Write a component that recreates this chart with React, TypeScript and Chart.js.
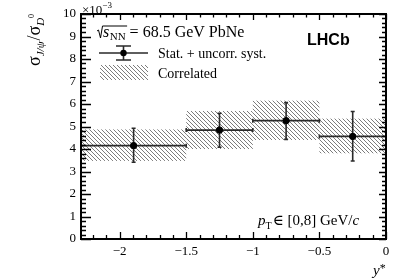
import React, { useEffect, useRef } from 'react';
import { Chart, registerables } from 'chart.js';

Chart.register(...registerables);

// ---- data ----
const xMin = -2.29;
const xMax = 0;
const binLow = [-2.29, -1.5, -1.0, -0.5];
const binHigh = [-1.5, -1.0, -0.5, 0.0];
const centers = [-1.895, -1.25, -0.75, -0.25];
const values = [4.15, 4.84, 5.26, 4.56];
const errHigh = [4.92, 5.59, 6.06, 5.67];
const errLow = [3.41, 4.08, 4.43, 3.47];
const corrHigh = [4.87, 5.69, 6.15, 5.35];
const corrLow = [3.47, 4.0, 4.4, 3.81];
const xTicks = [-2, -1.5, -1, -0.5, 0];
const yTicks = [0, 1, 2, 3, 4, 5, 6, 7, 8, 9, 10];

const SERIF = "'Liberation Serif', 'DejaVu Serif', serif";
const SANS = "'Liberation Sans', Arial, sans-serif";

type Seg = { text: string; font: string; dy?: number; gap?: number };
function drawRich(ctx: CanvasRenderingContext2D, x: number, y: number, segs: Seg[]) {
  let cx = x;
  for (const s of segs) {
    ctx.font = s.font;
    ctx.fillText(s.text, cx, y + (s.dy || 0));
    cx += ctx.measureText(s.text).width + (s.gap || 0);
  }
  return cx;
}

function fmt(v: number) {
  if (v < 0) return '\u2212' + String(Math.abs(v));
  return String(v);
}

export default function App() {
  const ref = useRef<HTMLCanvasElement | null>(null);

  useEffect(() => {
    const canvas = ref.current;
    if (!canvas) return;
    const pc = document.createElement('canvas');
    pc.width = 4;
    pc.height = 4;
    const pctx = pc.getContext('2d')!;
    pctx.fillStyle = '#7c7c7c';
    for (let i = 0; i < 4; i++) pctx.fillRect(i, i, 1, 1);
    const ctx0 = canvas.getContext('2d')!;
    const hatch = ctx0.createPattern(pc, 'repeat')!;

    const errColor = '#2a2a2a';

    const plotPlugin = {
      id: 'plotExtras',
      beforeDatasetsDraw(chart: any) {
        const ctx: CanvasRenderingContext2D = chart.ctx;
        const xs = chart.scales.x;
        const ys = chart.scales.y;
        const a = chart.chartArea;
        ctx.save();
        ctx.beginPath();
        ctx.rect(a.left, a.top, a.right - a.left, a.bottom - a.top);
        ctx.clip();
        // correlated boxes
        ctx.fillStyle = hatch;
        for (let i = 0; i < values.length; i++) {
          const x1 = xs.getPixelForValue(binLow[i]);
          const x2 = xs.getPixelForValue(binHigh[i]);
          const y1 = ys.getPixelForValue(corrHigh[i]);
          const y2 = ys.getPixelForValue(corrLow[i]);
          ctx.fillRect(x1, y1, x2 - x1, y2 - y1);
        }
        // error bars
        ctx.strokeStyle = errColor;
        ctx.lineWidth = 1.6;
        for (let i = 0; i < values.length; i++) {
          const xc = xs.getPixelForValue(centers[i]);
          const x1 = xs.getPixelForValue(binLow[i]);
          const x2 = xs.getPixelForValue(binHigh[i]);
          const yc = ys.getPixelForValue(values[i]);
          const yh = ys.getPixelForValue(errHigh[i]);
          const yl = ys.getPixelForValue(errLow[i]);
          ctx.beginPath();
          ctx.moveTo(x1, yc);
          ctx.lineTo(x2, yc);
          ctx.moveTo(x1, yc - 2);
          ctx.lineTo(x1, yc + 2);
          ctx.moveTo(x2, yc - 2);
          ctx.lineTo(x2, yc + 2);
          ctx.moveTo(xc, yh);
          ctx.lineTo(xc, yl);
          ctx.moveTo(xc - 2, yh);
          ctx.lineTo(xc + 2, yh);
          ctx.moveTo(xc - 2, yl);
          ctx.lineTo(xc + 2, yl);
          ctx.stroke();
        }
        ctx.restore();
      },
      afterDraw(chart: any) {
        const ctx: CanvasRenderingContext2D = chart.ctx;
        const xs = chart.scales.x;
        const ys = chart.scales.y;
        const a = chart.chartArea;
        ctx.save();
        // frame
        ctx.strokeStyle = '#000';
        ctx.lineWidth = 2;
        ctx.strokeRect(a.left, a.top, a.right - a.left, a.bottom - a.top);
        ctx.lineWidth = 1.3;
        ctx.beginPath();
        // y ticks (major every 1, minor every 0.2)
        for (let k = 0; k <= 50; k++) {
          const v = k / 5;
          const y = Math.round(ys.getPixelForValue(v)) + 0.5;
          const major = k % 5 === 0;
          ctx.moveTo(a.left, y);
          ctx.lineTo(a.left + (major ? 10 : 5), y);
          ctx.moveTo(a.right, y);
          ctx.lineTo(a.right - (major ? 7 : 4), y);
        }
        // x ticks (major every 0.5, minor every 0.1)
        for (let k = Math.ceil(xMin * 10); k <= Math.round(xMax * 10); k++) {
          const v = k / 10;
          const x = Math.round(xs.getPixelForValue(v)) + 0.5;
          const major = k % 5 === 0;
          ctx.moveTo(x, a.bottom);
          ctx.lineTo(x, a.bottom - (major ? 7 : 4));
          ctx.moveTo(x, a.top);
          ctx.lineTo(x, a.top + (major ? 6 : 3.5));
        }
        ctx.stroke();

        ctx.fillStyle = '#000';
        ctx.textBaseline = 'alphabetic';
        ctx.textAlign = 'left';

        // x10^-3
        drawRich(ctx, a.left + 1, 14, [
          { text: '\u00d710', font: `13px ${SERIF}` },
          { text: '\u22123', font: `9px ${SERIF}`, dy: -6 },
        ]);

        // sqrt(s_NN) line
        ctx.strokeStyle = '#000';
        ctx.lineWidth = 1;
        const lx = 97;
        const by = 37;
        ctx.font = `italic 16px ${SERIF}`;
        const sW = ctx.measureText('s').width;
        ctx.font = `11px ${SERIF}`;
        const nnW = ctx.measureText('NN').width;
        const sx = lx + 6;
        ctx.beginPath();
        ctx.moveTo(lx, by - 6);
        ctx.lineTo(lx + 1.5, by - 7);
        ctx.lineTo(lx + 3.5, by + 1);
        ctx.lineTo(lx + 5.5, by - 11);
        ctx.lineTo(sx + sW + nnW + 2, by - 11);
        ctx.stroke();
        drawRich(ctx, sx, by, [
          { text: 's', font: `italic 16px ${SERIF}`, gap: 0.5 },
          { text: 'NN', font: `11px ${SERIF}`, dy: 3, gap: 4 },
          { text: '= 68.5 GeV PbNe', font: `16px ${SERIF}` },
        ]);

        // legend entry 1: marker with error bars
        ctx.strokeStyle = errColor;
        ctx.lineWidth = 1.6;
        const my = 53;
        ctx.beginPath();
        ctx.moveTo(99, my);
        ctx.lineTo(148, my);
        ctx.moveTo(123.5, 46);
        ctx.lineTo(123.5, 60);
        ctx.moveTo(116, 46);
        ctx.lineTo(131, 46);
        ctx.moveTo(116, 60);
        ctx.lineTo(131, 60);
        ctx.stroke();
        ctx.fillStyle = '#000';
        ctx.beginPath();
        ctx.arc(123.5, my, 3.2, 0, Math.PI * 2);
        ctx.fill();
        ctx.font = `14px ${SERIF}`;
        ctx.fillText('Stat. + uncorr. syst.', 158, 58);

        // legend entry 2: hatched box
        ctx.fillStyle = hatch;
        ctx.fillRect(100, 65, 48, 15);
        ctx.fillStyle = '#000';
        ctx.font = `14px ${SERIF}`;
        ctx.fillText('Correlated', 158, 78);

        // LHCb
        ctx.font = `bold 16px ${SANS}`;
        ctx.fillText('LHCb', 307, 45);

        // pT range
        drawRich(ctx, 258, 225, [
          { text: 'p', font: `italic 15px ${SERIF}` },
          { text: 'T', font: `10px ${SERIF}`, dy: 4, gap: 1 },
          { text: '\u2208 [0,8] GeV/', font: `15px ${SERIF}` },
          { text: 'c', font: `italic 15px ${SERIF}` },
        ]);

        // x axis title
        drawRich(ctx, 373, 275, [
          { text: 'y', font: `italic 15px ${SERIF}` },
          { text: '*', font: `12px ${SERIF}`, dy: -3 },
        ]);

        // y axis title (rotated)
        ctx.save();
        ctx.translate(40, 66);
        ctx.rotate(-Math.PI / 2);
        drawRich(ctx, 0, 0, [
          { text: '\u03c3', font: `18px ${SERIF}` },
          { text: 'J/\u03c8', font: `italic 11px ${SERIF}`, dy: 4, gap: 1 },
          { text: '/', font: `18px ${SERIF}` },
          { text: '\u03c3', font: `18px ${SERIF}` },
          { text: 'D', font: `italic 11px ${SERIF}`, dy: 4 },
          { text: '0', font: `8px ${SERIF}`, dy: -6 },
        ]);
        ctx.restore();

        ctx.restore();
      },
    };

    const chart = new Chart(canvas, {
      type: 'scatter',
      data: {
        datasets: [
          {
            data: centers.map((c, i) => ({ x: c, y: values[i] })),
            backgroundColor: '#000',
            borderColor: '#000',
            pointRadius: 3.2,
            pointHoverRadius: 3.2,
            showLine: false,
          },
        ],
      },
      options: {
        responsive: false,
        animation: false,
        events: [],
        layout: { padding: { top: 14, right: 21, left: 0, bottom: 0 } },
        plugins: { legend: { display: false }, tooltip: { enabled: false } },
        scales: {
          x: {
            type: 'linear',
            min: xMin,
            max: xMax,
            afterBuildTicks: (s: any) => {
              s.ticks = xTicks.map((v) => ({ value: v }));
            },
            afterFit: (s: any) => {
              s.height = 39;
            },
            grid: { display: false, drawTicks: false },
            border: { display: false },
            ticks: {
              font: { family: SERIF, size: 13 },
              color: '#000',
              padding: 5,
              maxRotation: 0,
              autoSkip: false,
              callback: (v: any) => fmt(Number(v)),
            },
          },
          y: {
            type: 'linear',
            min: 0,
            max: 10,
            afterBuildTicks: (s: any) => {
              s.ticks = yTicks.map((v) => ({ value: v }));
            },
            afterFit: (s: any) => {
              s.width = 81;
            },
            grid: { display: false, drawTicks: false },
            border: { display: false },
            ticks: {
              font: { family: SERIF, size: 13 },
              color: '#000',
              padding: 5,
              autoSkip: false,
              callback: (v: any) => fmt(Number(v)),
            },
          },
        },
      },
      plugins: [plotPlugin],
    });
    return () => chart.destroy();
  }, []);

  return (
    <div style={{ position: 'absolute', left: 0, top: 0, width: 407, height: 278, background: '#fff' }}>
      <canvas ref={ref} width={407} height={278} style={{ display: 'block', width: 407, height: 278 }} />
    </div>
  );
}
